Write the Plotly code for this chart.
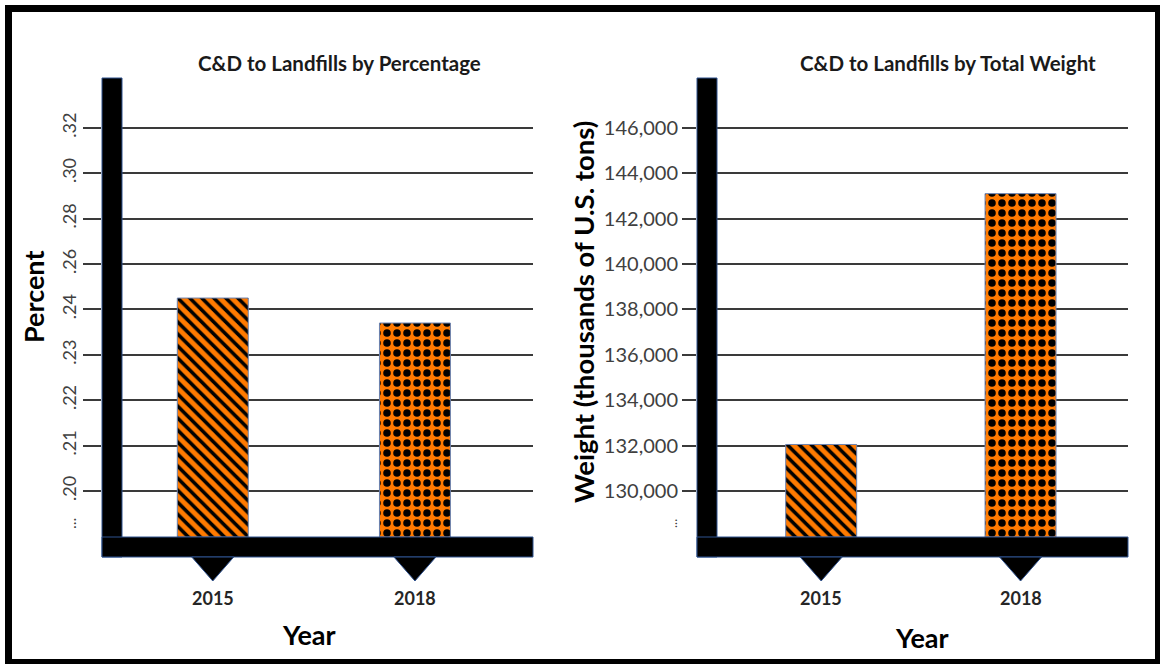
import numpy as np
import plotly.graph_objects as go

W, H = 1160, 664

# ---------------- data ----------------
years = ["2015", "2018"]
pct_values = [0.245, 0.237]
weight_values = [132050, 143100]

pct_tick_values = [0.20, 0.21, 0.22, 0.23, 0.24, 0.26, 0.28, 0.30, 0.32]
pct_tick_labels = [".20", ".21", ".22", ".23", ".24", ".26", ".28", ".30", ".32"]
weight_tick_values = [130000, 132000, 134000, 136000, 138000, 140000, 142000, 144000, 146000]
weight_tick_labels = ["130,000", "132,000", "134,000", "136,000", "138,000",
                      "140,000", "142,000", "144,000", "146,000"]

title_left = "C&D to Landfills by Percentage"
title_right = "C&D to Landfills by Total Weight"
ylabel_left = "Percent"
ylabel_right = "Weight (thousands of U.S. tons)"
xlabel = "Year"

# ---------------- styling ----------------
ORANGE = "#FF7A00"
FONT = "Lato"
GRID = "#3a3a3a"
BAR_EDGE = "#6b82b0"
AX_EDGE = "#2F528F"


def px(x):
    return x / W


def py(y):
    return 1 - y / H


# plot-area geometry (pixels)
L_X0, L_X1 = 102, 533
R_X0, R_X1 = 697, 1128
Y_TOP, Y_BOT = 78, 537
AX_THICK = 20

# left axis: evenly spaced "broken" scale -> positions 0..8
pct_pos_ticks = list(range(len(pct_tick_values)))
pct_positions = np.interp(pct_values, pct_tick_values, pct_pos_ticks)
y_range_left = [-1.013, 9.097]
step = weight_tick_values[1] - weight_tick_values[0]
y_range_right = [weight_tick_values[0] + y_range_left[0] * step,
                 weight_tick_values[0] + y_range_left[1] * step]

x_pos = list(range(len(years)))
x_range_left = [-0.548, 1.584]
x_range_right = [-0.623, 1.539]

patterns = [dict(shape="\\", fgcolor="black", bgcolor=ORANGE, size=8.5, solidity=0.42, fillmode="replace"),
            dict(shape=".", fgcolor="black", bgcolor=ORANGE, size=10, solidity=0.45, fillmode="replace")]

fig = go.Figure()

for i in range(len(years)):
    fig.add_trace(go.Bar(
        x=[x_pos[i]], y=[pct_positions[i] - y_range_left[0]], base=[y_range_left[0]],
        width=0.351, xaxis="x", yaxis="y",
        marker=dict(color=ORANGE, pattern=patterns[i], line=dict(color=BAR_EDGE, width=1)),
        showlegend=False, hoverinfo="skip"))
    fig.add_trace(go.Bar(
        x=[x_pos[i]], y=[weight_values[i] - y_range_right[0]], base=[y_range_right[0]],
        width=0.356, xaxis="x2", yaxis="y2",
        marker=dict(color=ORANGE, pattern=patterns[i], line=dict(color=BAR_EDGE, width=1)),
        showlegend=False, hoverinfo="skip"))

common_x = dict(showgrid=False, zeroline=False, showticklabels=False, ticks="",
                showline=False, fixedrange=True)
common_y = dict(showgrid=True, gridcolor=GRID, gridwidth=1.5, zeroline=False,
                ticks="outside", tickcolor=GRID, tickwidth=1.5, showline=False,
                fixedrange=True)

fig.update_layout(
    width=W, height=H, margin=dict(l=0, r=0, t=0, b=0),
    paper_bgcolor="white", plot_bgcolor="white",
    barmode="overlay",
    xaxis=dict(domain=[px(L_X0), px(L_X1)], range=x_range_left, anchor="y", **common_x),
    xaxis2=dict(domain=[px(R_X0), px(R_X1)], range=x_range_right, anchor="y2", **common_x),
    yaxis=dict(domain=[py(Y_BOT), py(Y_TOP)], range=y_range_left, anchor="x",
               tickvals=pct_pos_ticks, ticktext=pct_tick_labels, tickangle=-90, ticklen=18,
               tickfont=dict(family=FONT, color="#404040", size=18), **common_y),
    yaxis2=dict(domain=[py(Y_BOT), py(Y_TOP)], range=y_range_right, anchor="x2",
                tickvals=weight_tick_values, ticktext=weight_tick_labels, ticklen=14,
                tickfont=dict(family=FONT, color="#404040", size=20), **common_y),
)

shapes = []
# outer frame
shapes.append(dict(type="rect", xref="paper", yref="paper",
                   x0=px(8.5), x1=px(1158.5), y0=py(662.5), y1=py(8.5),
                   line=dict(color="black", width=7), fillcolor="rgba(0,0,0,0)"))
for (x0, x1, xref, xr) in [(L_X0, L_X1, "x", x_range_left), (R_X0, R_X1, "x2", x_range_right)]:
    # vertical thick axis
    shapes.append(dict(type="rect", xref="paper", yref="paper", layer="above",
                       x0=px(x0), x1=px(x0 + AX_THICK), y0=py(Y_BOT + AX_THICK), y1=py(Y_TOP),
                       fillcolor="black", line=dict(color=AX_EDGE, width=1)))
    # horizontal thick axis
    shapes.append(dict(type="rect", xref="paper", yref="paper", layer="above",
                       x0=px(x0), x1=px(x1), y0=py(Y_BOT + AX_THICK), y1=py(Y_BOT),
                       fillcolor="black", line=dict(color=AX_EDGE, width=1)))
    # triangular tick markers below the axis
    unit = (x1 - x0) / (xr[1] - xr[0])
    hw = 21 / unit
    for xp in x_pos:
        path = (f"M {xp - hw},{py(Y_BOT + AX_THICK)} L {xp + hw},{py(Y_BOT + AX_THICK)} "
                f"L {xp},{py(Y_BOT + AX_THICK + 24)} Z")
        shapes.append(dict(type="path", xref=xref, yref="paper", path=path, layer="above",
                           fillcolor="black", line=dict(color=AX_EDGE, width=1)))
fig.update_layout(shapes=shapes)


def note(text, x, y, size, color="black", angle=0, xref="paper"):
    return dict(text=text, x=x, y=y, xref=xref, yref="paper", xanchor="center",
                yanchor="middle", textangle=angle, showarrow=False,
                font=dict(family=FONT, size=size, color=color))


ann = [
    note(f"<b>{title_left}</b>", px(339), py(63), 20.5, "#1a1a1a"),
    note(f"<b>{title_right}</b>", px(948), py(63), 20.5, "#1a1a1a"),
    note(f"<b>{ylabel_left}</b>", px(33), py(297), 27, angle=-90),
    note(f"<b>{ylabel_right}</b>", px(583), py(312), 27.5, angle=-90),
    note(f"<b>{xlabel}</b>", px(309), py(634), 27),
    note(f"<b>{xlabel}</b>", px(922), py(637), 27),
    note("...", px(69), py(524), 16, "#404040", angle=-90),
    note("...", px(672), py(524), 13, "#404040", angle=-90),
]
for xref in ["x", "x2"]:
    for xp, lab in zip(x_pos, years):
        ann.append(note(f"<b>{lab}</b>", xp, py(598), 18, "#262626", xref=xref))
fig.update_layout(annotations=ann)

fig.write_html("out.html")
